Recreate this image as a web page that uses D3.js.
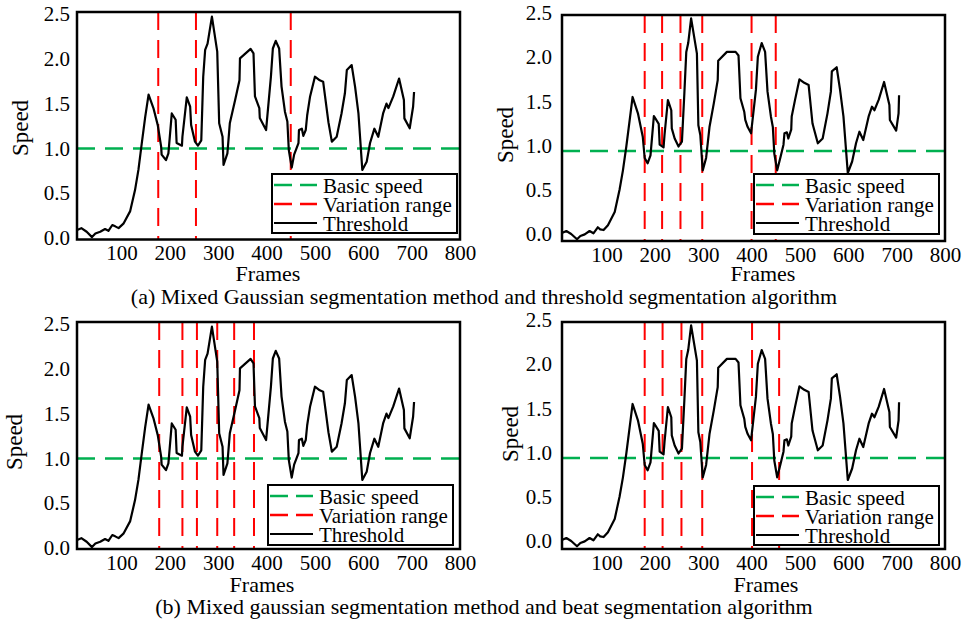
<!DOCTYPE html>
<html>
<head>
<meta charset="utf-8">
<script src="https://cdn.jsdelivr.net/npm/d3@7"></script>
<style>
  html, body { margin: 0; padding: 0; background: #fff; }
  svg { display: block; }
  text { font-family: "Liberation Serif", "Times New Roman", serif; fill: #000; }
</style>
</head>
<body>
<svg id="chart" width="970" height="626"></svg>
<script>
// ---------------- DATA ----------------
// Threshold curve used by the left-hand panels
const framesA = [8,17,28,39,46,56,66,73,81,87,94,104,118,128,135,142,149,156,166,175,182,183,192,197,204,212,214,225,226,235,242,244,252,258,265,269,273,278,287,298,302,309,311,319,324,335,344,345,367,373,376,385,386,399,409,413,419,426,431,438,443,446,452,457,466,467,473,476,481,484,490,500,510,517,528,535,545,555,562,566,576,583,590,598,607,614,623,631,641,648,652,662,674,684,685,696,703,705];
const speedA  = [0.09,0.11,0.07,0.01,0.05,0.07,0.10,0.08,0.145,0.13,0.11,0.16,0.30,0.535,0.76,1.06,1.35,1.60,1.45,1.26,1.02,0.93,0.87,0.945,1.39,1.32,1.06,1.03,1.13,1.57,1.465,1.26,1.075,1.03,1.09,1.80,2.10,2.17,2.47,2.08,1.28,1.13,0.815,0.945,1.28,1.54,1.76,2.005,2.11,2.06,1.58,1.45,1.34,1.205,1.80,2.115,2.20,2.115,1.69,1.41,1.30,0.98,0.785,0.93,1.06,1.205,1.22,1.14,1.205,1.37,1.58,1.80,1.76,1.745,1.29,1.075,1.13,1.39,1.615,1.875,1.93,1.69,1.39,0.76,0.85,1.06,1.22,1.13,1.39,1.50,1.45,1.58,1.78,1.54,1.335,1.225,1.465,1.63];
// Threshold curve used by the right-hand panels
const framesB = [9,17,27,39,46,55,65,73,82,87,94,103,117,127,134,141,148,154,165,175,179,185,191,198,208,210,218,220,227,234,235,241,249,256,261,265,269,275,287,290,294,299,306,313,322,330,331,349,367,373,377,385,387,392,399,409,413,421,428,433,440,444,447,453,460,466,468,473,476,482,483,490,499,509,518,526,537,547,557,564,566,576,583,590,599,608,616,623,631,642,649,654,663,674,685,686,699,704,705];
const speedB  = [0.015,0.034,0.0,-0.06,-0.023,-0.004,0.034,0.008,0.076,0.053,0.045,0.10,0.25,0.50,0.72,0.99,1.29,1.55,1.365,1.10,0.86,0.80,0.89,1.335,1.245,1.01,0.98,1.12,1.516,1.40,1.195,1.08,0.99,1.045,1.59,2.06,2.16,2.44,2.04,1.23,1.12,0.72,0.86,1.21,1.48,1.74,1.96,2.06,2.06,2.02,1.535,1.38,1.29,1.21,1.14,1.63,2.005,2.16,2.06,1.61,1.33,1.21,0.91,0.72,0.875,1.01,1.14,1.15,1.08,1.18,1.33,1.52,1.75,1.71,1.685,1.25,1.026,1.08,1.365,1.61,1.84,1.886,1.63,1.33,0.69,0.82,1.026,1.157,1.063,1.327,1.44,1.40,1.52,1.72,1.46,1.29,1.17,1.365,1.57];

const basicSpeedLeft  = 1.0;
const basicSpeedRight = 0.94;

// Variation range boundaries (frames) for each panel
const variationTopLeft     = [176, 254, 450];
const variationTopRight    = [179, 215, 253, 298, 400, 450];
const variationBottomLeft  = [178, 226, 256, 298, 333, 374];
const variationBottomRight = [179, 216, 255, 298, 401, 457];

const xTickValues = [100, 200, 300, 400, 500, 600, 700, 800];
const yTickValues = [0, 0.5, 1.0, 1.5, 2.0, 2.5];
const legendLabels = ["Basic speed", "Variation range", "Threshold"];
const xTitle = "Frames";
const yTitle = "Speed";
const captions = [
  "(a) Mixed Gaussian segmentation method and threshold segmentation algorithm",
  "(b) Mixed gaussian segmentation method and beat segmentation algorithm"
];

// ---------------- LAYOUT ----------------
const GREEN = "#00b050";
const RED = "#ff0000";
const svg = d3.select("#chart");

const panels = [
  { frame: {x0: 77, x1: 460, y0: 12, y1: 239.5}, yRange: [238, 14], frames: framesA, speed: speedA,
    basic: basicSpeedLeft, red: variationTopLeft, legend: {x: 272, y: 174, w: 185, h: 59},
    yPad: 7, yTitle: {x: 28, y: 128}, xTitle: {x: 268, y: 281} },
  { frame: {x0: 562, x1: 945, y0: 15, y1: 241}, yRange: [234, 13], frames: framesB, speed: speedB,
    basic: basicSpeedRight, red: variationTopRight, legend: {x: 754, y: 174, w: 185, h: 60},
    yPad: 10, yTitle: {x: 513, y: 135}, xTitle: {x: 763, y: 281} },
  { frame: {x0: 77, x1: 460, y0: 322, y1: 549}, yRange: [548, 324], frames: framesA, speed: speedA,
    basic: basicSpeedLeft, red: variationBottomLeft, legend: {x: 268, y: 485, w: 185, h: 60},
    yPad: 7, yTitle: {x: 22, y: 442}, xTitle: {x: 262, y: 592} },
  { frame: {x0: 562, x1: 945, y0: 322, y1: 549}, yRange: [541, 320], frames: framesB, speed: speedB,
    basic: basicSpeedRight, red: variationBottomRight, legend: {x: 754, y: 486, w: 185, h: 59},
    yPad: 10, yTitle: {x: 518, y: 434}, xTitle: {x: 766, y: 592} }
];

const dash = "18,10";

panels.forEach(p => {
  const f = p.frame;
  const x = d3.scaleLinear().domain([8, 800]).range([f.x0, f.x1]);
  const y = d3.scaleLinear().domain([0, 2.5]).range(p.yRange);
  const g = svg.append("g");

  // basic speed line
  g.append("line")
    .attr("x1", f.x0).attr("x2", f.x1)
    .attr("y1", y(p.basic)).attr("y2", y(p.basic))
    .attr("stroke", GREEN).attr("stroke-width", 2.5)
    .attr("stroke-dasharray", dash);

  // variation range lines
  g.selectAll("line.red").data(p.red).enter().append("line")
    .attr("class", "red")
    .attr("x1", d => x(d)).attr("x2", d => x(d))
    .attr("y1", f.y0).attr("y2", f.y1)
    .attr("stroke", RED).attr("stroke-width", 2)
    .attr("stroke-dasharray", dash);

  // threshold curve
  const pts = p.frames.map((fr, i) => [fr, p.speed[i]]);
  g.append("path")
    .datum(pts)
    .attr("fill", "none")
    .attr("stroke", "#000")
    .attr("stroke-width", 2.2)
    .attr("stroke-linejoin", "round")
    .attr("d", d3.line().x(d => x(d[0])).y(d => y(d[1])));

  // axes (labels only)
  const xAxis = g.append("g")
    .attr("transform", `translate(0,${f.y1})`)
    .call(d3.axisBottom(x).tickValues(xTickValues).tickSize(0).tickPadding(6).tickFormat(d3.format("d")));
  xAxis.select(".domain").remove();
  xAxis.selectAll("text").attr("font-size", 21).attr("font-family", "Liberation Serif, Times New Roman, serif").attr("fill", "#000");

  const yAxis = g.append("g")
    .attr("transform", `translate(${f.x0},0)`)
    .call(d3.axisLeft(y).tickValues(yTickValues).tickSize(0).tickPadding(p.yPad).tickFormat(d3.format(".1f")));
  yAxis.select(".domain").remove();
  yAxis.selectAll("text").attr("font-size", 21).attr("font-family", "Liberation Serif, Times New Roman, serif").attr("fill", "#000");

  // legend
  const L = p.legend;
  const lg = g.append("g").attr("transform", `translate(${L.x},${L.y})`);
  lg.append("rect").attr("width", L.w).attr("height", L.h)
    .attr("fill", "#fff").attr("stroke", "#000").attr("stroke-width", 2);
  const rows = [
    {label: legendLabels[0], color: GREEN, dash: "18,8"},
    {label: legendLabels[1], color: RED, dash: "18,8"},
    {label: legendLabels[2], color: "#000", dash: null}
  ];
  rows.forEach((r, i) => {
    const cy = 11 + i * 19;
    const ln = lg.append("line").attr("x1", 2).attr("x2", 45).attr("y1", cy).attr("y2", cy)
      .attr("stroke", r.color).attr("stroke-width", r.dash ? 2.5 : 2.2);
    if (r.dash) ln.attr("stroke-dasharray", r.dash);
    lg.append("text").attr("x", 51).attr("y", cy).attr("dy", "0.36em")
      .attr("font-size", 21).text(r.label);
  });

  // frame
  g.append("rect")
    .attr("x", f.x0).attr("y", f.y0)
    .attr("width", f.x1 - f.x0).attr("height", f.y1 - f.y0)
    .attr("fill", "none").attr("stroke", "#000").attr("stroke-width", 2.5);

  // axis titles
  g.append("text")
    .attr("transform", `translate(${p.yTitle.x},${p.yTitle.y}) rotate(-90)`)
    .attr("text-anchor", "middle")
    .attr("font-size", 23)
    .text(yTitle);
  g.append("text")
    .attr("x", p.xTitle.x).attr("y", p.xTitle.y)
    .attr("text-anchor", "middle")
    .attr("font-size", 22)
    .text(xTitle);
});

// captions
svg.append("text").attr("x", 484).attr("y", 304).attr("text-anchor", "middle")
  .attr("font-size", 22).text(captions[0]);
svg.append("text").attr("x", 484).attr("y", 614).attr("text-anchor", "middle")
  .attr("font-size", 22).text(captions[1]);
</script>
</body>
</html>
